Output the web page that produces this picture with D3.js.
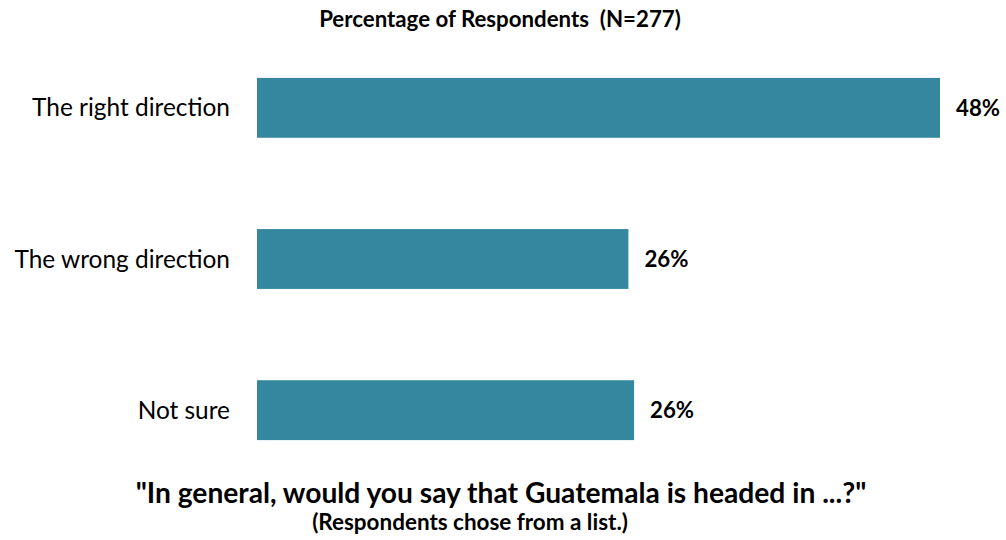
<!DOCTYPE html>
<html><head><meta charset="utf-8">
<script src="https://cdn.jsdelivr.net/npm/d3@7"></script>
<style>body{margin:0;background:#fff}svg{display:block}text{font-family:Lato,"Open Sans",sans-serif;white-space:pre}</style>
</head><body><svg id="c" width="1006" height="540"></svg>
<script>
const categories = ["The right direction","The wrong direction","Not sure"];
const values = [48.0, 26.1, 26.5];
const valueLabels = ["48%","26%","26%"];
const title = "Percentage of Respondents  (N=277)";
const question = "\"In general, would you say that Guatemala is headed in ...?\"";
const note = "(Respondents chose from a list.)";

const svg = d3.select("#c");
const x = d3.scaleLinear().domain([0,48]).range([257,940]);
const y = d3.scaleBand().domain(categories).range([32.25,485.75]).paddingInner(0.604).paddingOuter(0.302);

function fit(sel, w){ const n=sel.node(); const l=n.getComputedTextLength(); const fs=parseFloat(sel.attr("font-size")); sel.attr("font-size", fs*w/l); }

svg.selectAll("rect.bar").data(values).join("rect").attr("class","bar")
  .attr("x", x(0)).attr("y",(d,i)=>y(categories[i]))
  .attr("width", d=>x(d)-x(0)).attr("height", y.bandwidth()).attr("fill","#34879E");

svg.selectAll("text.cat").data(categories).join("text").attr("class","cat")
  .attr("x",230).attr("y",d=>y(d)+y.bandwidth()/2).attr("dy","0.35em")
  .attr("text-anchor","end").attr("font-size",22).attr("fill","#000").text(d=>d);
fit(svg.select("text.cat"),198);
svg.selectAll("text.cat").attr("font-size",svg.select("text.cat").attr("font-size"));

svg.selectAll("text.val").data(values).join("text").attr("class","val")
  .attr("x",d=>x(d)+16).attr("y",(d,i)=>y(categories[i])+y.bandwidth()/2).attr("dy","0.36em")
  .attr("font-size",20).attr("font-weight","bold").attr("fill","#000").text((d,i)=>valueLabels[i]);
fit(svg.select("text.val"),44);
svg.selectAll("text.val").attr("font-size",svg.select("text.val").attr("font-size"));

const t = svg.append("text").attr("x",500).attr("y",27).attr("text-anchor","middle")
  .attr("font-size",16).attr("font-weight","bold").text(title);
fit(t,362);
const q = svg.append("text").attr("x",501).attr("y",503).attr("text-anchor","middle")
  .attr("font-size",22).attr("font-weight","bold").text(question);
fit(q,731);
const n2 = svg.append("text").attr("x",470).attr("y",530).attr("text-anchor","middle")
  .attr("font-size",18).attr("font-weight","bold").text(note);
fit(n2,316);
</script></body></html>
